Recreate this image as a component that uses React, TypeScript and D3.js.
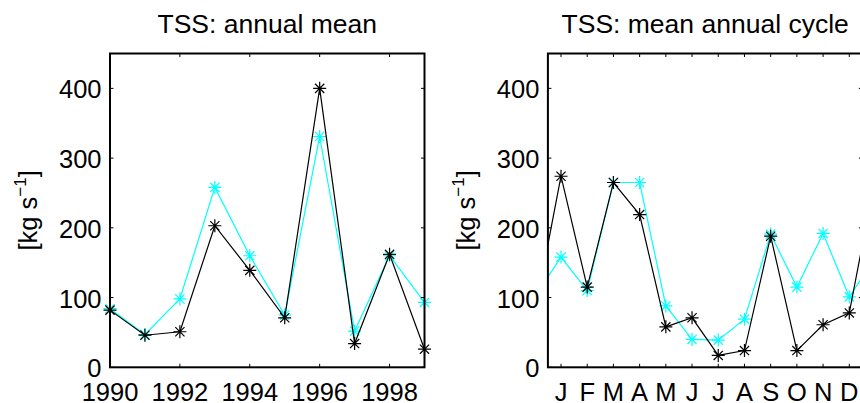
import React from "react";
import * as d3 from "d3";

// Annual mean TSS flux per year
const years = [1990, 1991, 1992, 1993, 1994, 1995, 1996, 1997, 1998, 1999];
const annualBlack = [82, 46, 51, 203, 139, 71, 400, 34, 162, 26];
const annualCyan = [84, 47, 98, 258, 160, 75, 331, 52, 160, 93];

// Mean annual cycle per month
const monthLabels = ["J", "F", "M", "A", "M", "J", "J", "A", "S", "O", "N", "D"];
const cycleBlack = [274, 115, 265, 219, 58, 71, 17, 24, 188, 24, 61, 78];
const cycleCyan = [158, 110, 265, 265, 88, 40, 39, 69, 191, 115, 192, 101];

const yTicks = [0, 100, 200, 300, 400];
const yearTicks = [1990, 1992, 1994, 1996, 1998];

const W = 860;
const H = 403;
const TOP = 53.5;
const BOTTOM = 367.3;
const FONT = "'Liberation Sans', Arial, Helvetica, sans-serif";
const CYAN = "#00ffff";
const BLACK = "#000000";

const R = 6.5;
const D = 4.6;
const starPath = `M${-R},0H${R}M0,${-R}V${R}M${-D},${-D}L${D},${D}M${-D},${D}L${D},${-D}`;

type Pt = [number, number];

function Stars({ pts, color, x, y }: { pts: Pt[]; color: string; x: (v: number) => number; y: (v: number) => number }) {
  return (
    <g stroke={color} strokeWidth={1.2} fill="none">
      {pts.map((p, i) => (
        <path key={i} d={starPath} transform={`translate(${x(p[0])},${y(p[1])})`} />
      ))}
    </g>
  );
}

function Frame({
  left,
  right,
  title,
  xTickVals,
  xTickLabels,
  x,
  y,
  children,
}: {
  left: number;
  right: number;
  title: string;
  xTickVals: number[];
  xTickLabels: string[];
  x: (v: number) => number;
  y: (v: number) => number;
  children?: React.ReactNode;
}) {
  const midY = (TOP + BOTTOM) / 2;
  const tl = 3.5;
  return (
    <g fontFamily={FONT} fill={BLACK}>
      <text x={(left + right) / 2} y={33} fontSize={26.5} textAnchor="middle">
        {title}
      </text>
      <text
        transform={`translate(${left - 73},${midY}) rotate(-90)`}
        fontSize={25.5}
        textAnchor="middle"
      >
        [kg s
        <tspan fontSize={17} dy={-11}>−1</tspan>
        <tspan dy={11}>]</tspan>
      </text>
      {children}
      {yTicks.map((t) => (
        <g key={"y" + t}>
          <line x1={left} x2={left + tl} y1={y(t)} y2={y(t)} stroke={BLACK} strokeWidth={1} />
          <line x1={right} x2={right - tl} y1={y(t)} y2={y(t)} stroke={BLACK} strokeWidth={1} />
          <text x={left - 8.5} y={y(t) + 10} fontSize={25.5} textAnchor="end">
            {t}
          </text>
        </g>
      ))}
      {xTickVals.map((t, i) => (
        <g key={"x" + i}>
          <line x1={x(t)} x2={x(t)} y1={BOTTOM} y2={BOTTOM - tl} stroke={BLACK} strokeWidth={1} />
          <line x1={x(t)} x2={x(t)} y1={TOP} y2={TOP + tl} stroke={BLACK} strokeWidth={1} />
          <text x={x(t)} y={400.5} fontSize={25.5} textAnchor="middle">
            {xTickLabels[i]}
          </text>
        </g>
      ))}
      <rect x={left} y={TOP} width={right - left} height={BOTTOM - TOP} fill="none" stroke={BLACK} strokeWidth={2} />
    </g>
  );
}

export default function App() {
  const yL = d3.scaleLinear().domain([0, 450]).range([BOTTOM, TOP]);

  // Left panel: annual mean
  const L0 = 110;
  const L1 = 424.5;
  const xA = d3.scaleLinear().domain([1990, 1999]).range([L0, L1]);
  const ptsAB: Pt[] = years.map((yr, i) => [yr, annualBlack[i]]);
  const ptsAC: Pt[] = years.map((yr, i) => [yr, annualCyan[i]]);
  const lineA = d3
    .line<Pt>()
    .x((p) => xA(p[0]))
    .y((p) => yL(p[1]));

  // Right panel: mean annual cycle, wrapped around December/January
  const R0 = 547.9;
  const R1 = 862.4;
  const xM = d3.scaleLinear().domain([0.5, 12.5]).range([R0, R1]);
  const monthIdx = monthLabels.map((_, i) => i + 1);
  const wrap = (vals: number[]): Pt[] => [
    [0, vals[11]],
    ...vals.map((v, i) => [i + 1, v] as Pt),
    [13, vals[0]],
  ];
  const ptsCB = wrap(cycleBlack);
  const ptsCC = wrap(cycleCyan);
  const lineM = d3
    .line<Pt>()
    .x((p) => xM(p[0]))
    .y((p) => yL(p[1]));
  const inside = (p: Pt) => p[0] >= 1 && p[0] <= 12;

  return (
    <svg
      width={W}
      height={H}
      viewBox={`0 0 ${W} ${H}`}
      style={{ position: "absolute", left: 0, top: 0, background: "#fff" }}
    >
      <defs>
        <clipPath id="cycleClip">
          <rect x={R0} y={TOP} width={R1 - R0} height={BOTTOM - TOP} />
        </clipPath>
      </defs>
      <rect width={W} height={H} fill="#fff" />

      <Frame
        left={L0}
        right={L1}
        title="TSS: annual mean"
        xTickVals={yearTicks}
        xTickLabels={yearTicks.map(String)}
        x={xA}
        y={yL}
      >
        <path d={lineA(ptsAC) ?? ""} fill="none" stroke={CYAN} strokeWidth={1.2} />
        <Stars pts={ptsAC} color={CYAN} x={xA} y={yL} />
        <path d={lineA(ptsAB) ?? ""} fill="none" stroke={BLACK} strokeWidth={1.2} />
        <Stars pts={ptsAB} color={BLACK} x={xA} y={yL} />
      </Frame>

      <Frame
        left={R0}
        right={R1}
        title="TSS: mean annual cycle"
        xTickVals={monthIdx}
        xTickLabels={monthLabels}
        x={xM}
        y={yL}
      >
        <g clipPath="url(#cycleClip)">
          <path d={lineM(ptsCC) ?? ""} fill="none" stroke={CYAN} strokeWidth={1.2} />
        </g>
        <Stars pts={ptsCC.filter(inside)} color={CYAN} x={xM} y={yL} />
        <g clipPath="url(#cycleClip)">
          <path d={lineM(ptsCB) ?? ""} fill="none" stroke={BLACK} strokeWidth={1.2} />
        </g>
        <Stars pts={ptsCB.filter(inside)} color={BLACK} x={xM} y={yL} />
      </Frame>
    </svg>
  );
}
